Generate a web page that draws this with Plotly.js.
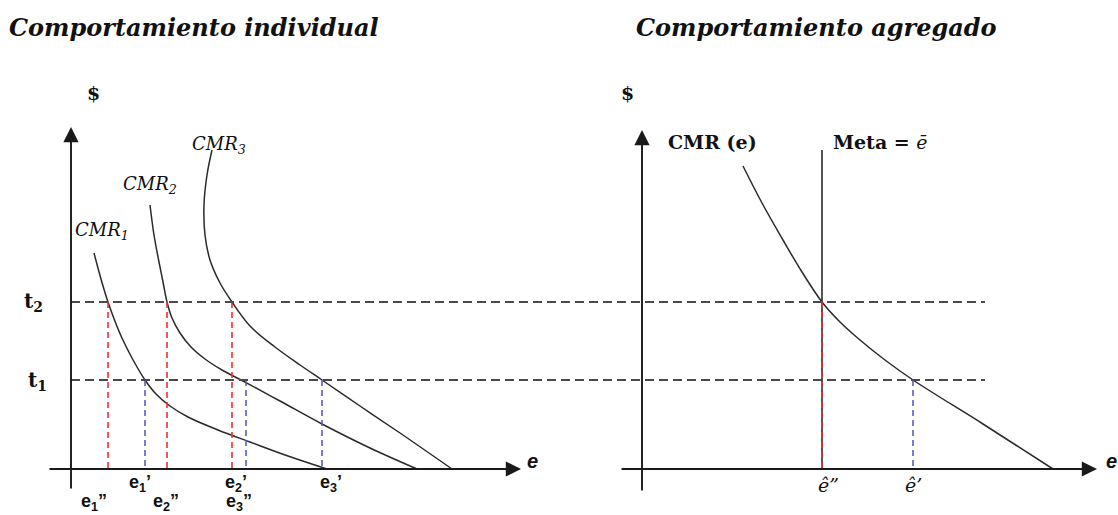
<!DOCTYPE html>
<html><head><meta charset="utf-8">
<script src="https://cdn.plot.ly/plotly-3.0.1.min.js"></script>
<style>html,body{margin:0;padding:0;background:#fff}#chart{width:1118px;height:515px}</style>
</head><body><div id="chart"></div>
<script>
// ---------- data ----------
const t2 = 1.67, t1 = 0.89;
const tLabels = ['t<sub>2</sub>', 't<sub>1</sub>'];

const cmr1X = [0.23, 0.275, 0.32, 0.37, 0.435, 0.505, 0.61, 0.74, 0.85, 0.99, 1.17, 1.47, 1.79, 2.17, 2.56];
const cmr1Y = [2.16, 1.99, 1.83, 1.67, 1.49, 1.32, 1.11, 0.89, 0.75, 0.63, 0.52, 0.39, 0.27, 0.13, 0.00];
const cmr2X = [0.79, 0.83, 0.88, 0.92, 0.96, 1.01, 1.09, 1.20, 1.34, 1.51, 1.72, 2.09, 2.51, 2.99, 3.46];
const cmr2Y = [2.64, 2.34, 2.07, 1.87, 1.67, 1.51, 1.36, 1.22, 1.10, 0.99, 0.88, 0.68, 0.45, 0.21, 0.00];
const cmr3X = [1.41, 1.36, 1.33, 1.34, 1.39, 1.49, 1.61, 1.79, 2.04, 2.29, 2.51, 2.89, 3.29, 3.81];
const cmr3Y = [3.19, 2.94, 2.64, 2.34, 2.09, 1.86, 1.67, 1.43, 1.22, 1.04, 0.89, 0.63, 0.36, 0.00];
const cmrNames = ['CMR<sub>1</sub>', 'CMR<sub>2</sub>', 'CMR<sub>3</sub>'];

const eSecond = [0.37, 0.96, 1.61];           // e1'', e2'', e3''  (at t2)
const eFirst  = [0.74, 1.75, 2.51];           // e1',  e2',  e3'   (at t1)
const eSecondLabels = ['e<sub>1</sub>”', 'e<sub>2</sub>”', 'e<sub>3</sub>”'];
const eFirstLabels  = ['e<sub>1</sub>’', 'e<sub>2</sub>’', 'e<sub>3</sub>’'];

const aggX = [1.01, 1.20, 1.41, 1.60, 1.80, 1.98, 2.18, 2.43, 2.71, 3.41, 4.11];
const aggY = [3.03, 2.66, 2.29, 1.97, 1.67, 1.47, 1.29, 1.09, 0.89, 0.45, 0.00];
const eBar = 1.80, metaTop = 3.19;
const eHat1 = 2.71;
const hatLabels = ['ê”', 'ê’'];

// ---------- helpers ----------
const W = 1118, H = 515;
const px = v => v / W, py = v => 1 - v / H;
function vlines(xs, top) {
  const x = [], y = [];
  xs.forEach(v => { x.push(v, v, null); y.push(top, 0, null); });
  return {x, y};
}
const curveStyle = {color: '#2a2a2a', width: 1.5, shape: 'spline', smoothing: 1};
const red = '#f03030', blue = '#5a5ac8';

const traces = [];
[[cmr1X, cmr1Y], [cmr2X, cmr2Y], [cmr3X, cmr3Y]].forEach(([x, y]) =>
  traces.push({x, y, xaxis: 'x', yaxis: 'y', mode: 'lines', line: curveStyle, hoverinfo: 'skip'}));
const rL = vlines(eSecond, t2), bL = vlines(eFirst, t1);
traces.push({x: rL.x, y: rL.y, xaxis: 'x', yaxis: 'y', mode: 'lines', line: {color: red, width: 1.6, dash: '6px,4px'}});
traces.push({x: bL.x, y: bL.y, xaxis: 'x', yaxis: 'y', mode: 'lines', line: {color: blue, width: 1.6, dash: '6px,4px'}});
// right panel
traces.push({x: aggX, y: aggY, xaxis: 'x2', yaxis: 'y', mode: 'lines', line: curveStyle});
traces.push({x: [eBar, eBar], y: [0, metaTop], xaxis: 'x2', yaxis: 'y', mode: 'lines', line: {color: '#2a2a2a', width: 1.6}});
traces.push({x: [eBar, eBar], y: [t2, 0], xaxis: 'x2', yaxis: 'y', mode: 'lines', line: {color: red, width: 1.6, dash: '6px,4px'}});
traces.push({x: [eHat1, eHat1], y: [t1, 0], xaxis: 'x2', yaxis: 'y', mode: 'lines', line: {color: blue, width: 1.6, dash: '6px,4px'}});

const shapes = [t2, t1].map(t => ({type: 'line', xref: 'paper', yref: 'y', x0: px(71), x1: px(985), y0: t, y1: t,
  line: {color: '#4a4a4a', width: 1.8, dash: '9px,5px'}}));

const ann = [];
function arrow(xr, x, y, ax, ay) {
  ann.push({xref: xr, yref: 'y', axref: xr, ayref: 'y', x, y, ax, ay, text: '', showarrow: true,
    arrowhead: 2, arrowsize: 1.6, arrowwidth: 1.9, arrowcolor: '#1a1a1a', standoff: 0});
}
arrow('x', 0, 3.42, 0, -0.21);
arrow('x', 4.50, 0, -0.23, 0);
arrow('x2', 0, 3.39, 0, -0.23);
arrow('x2', 4.55, 0, -0.22, 0);

function txt(text, x, y, size, family, opts = {}) {
  ann.push(Object.assign({xref: 'paper', yref: 'paper', x: px(x), y: py(y), text, showarrow: false,
    xanchor: 'center', yanchor: 'middle', font: {size, family, color: '#111'}}, opts));
}
const serif = 'DejaVu Serif', sans = 'Liberation Sans';
txt('<b><i>Comportamiento individual</i></b>', 7, 27, 24, serif, {xanchor: 'left'});
txt('<b><i>Comportamiento agregado</i></b>', 634, 27, 24, serif, {xanchor: 'left'});
txt('<b>$</b>', 93, 93, 19, serif);
txt('<b>$</b>', 627, 93, 19, serif);
txt('<b>' + tLabels[0] + '</b>', 33, 302, 20, serif);
txt('<b>' + tLabels[1] + '</b>', 37, 381, 20, serif);
txt('<i>' + cmrNames[0] + '</i>', 102, 231, 18, serif);
txt('<i>' + cmrNames[1] + '</i>', 150, 185, 18, serif);
txt('<i>' + cmrNames[2] + '</i>', 219, 145, 18, serif);
txt('<b>CMR (e)</b>', 712, 142, 19, serif);
txt('<b>Meta = </b><i>ē</i>', 880, 142, 19, serif);
txt('<b><i>e</i></b>', 532, 461, 20, sans);
txt('<b><i>e</i></b>', 1111, 461, 20, sans);

const shiftSecond = [-14, -1, 7], shiftFirst = [-5, -10, 9];
eSecond.forEach((v, i) => ann.push({xref: 'x', yref: 'paper', x: v, y: py(515), yanchor: 'bottom', xshift: shiftSecond[i], text: '<b>' + eSecondLabels[i] + '</b>',
  showarrow: false, borderpad: 0, font: {size: 18, family: sans, color: '#111'}}));
eFirst.forEach((v, i) => ann.push({xref: 'x', yref: 'paper', x: v, y: py(471), yanchor: 'top', xshift: shiftFirst[i], text: '<b>' + eFirstLabels[i] + '</b>',
  showarrow: false, borderpad: 0, font: {size: 18, family: sans, color: '#111'}}));
[eBar, eHat1].forEach((v, i) => ann.push({xref: 'x2', yref: 'paper', x: v, y: py(485), yanchor: 'middle', xshift: i === 0 ? 6 : 0, text: '<i>' + hatLabels[i] + '</i>',
  showarrow: false, font: {size: 19, family: serif, color: '#111'}}));

const hidden = {showgrid: false, zeroline: false, showticklabels: false, ticks: '', showline: false, fixedrange: true};
const layout = {
  width: W, height: H, margin: {l: 0, r: 0, t: 0, b: 0}, showlegend: false,
  paper_bgcolor: '#fff', plot_bgcolor: '#fff',
  xaxis: Object.assign({domain: [0, 0.5], range: [-0.71, 4.88]}, hidden),
  xaxis2: Object.assign({domain: [0.5, 1], range: [-0.83, 4.76]}, hidden),
  yaxis: Object.assign({domain: [0, 1], range: [-0.46, 4.69]}, hidden),
  shapes, annotations: ann
};
Plotly.newPlot('chart', traces, layout, {staticPlot: true, displayModeBar: false});
</script></body></html>
